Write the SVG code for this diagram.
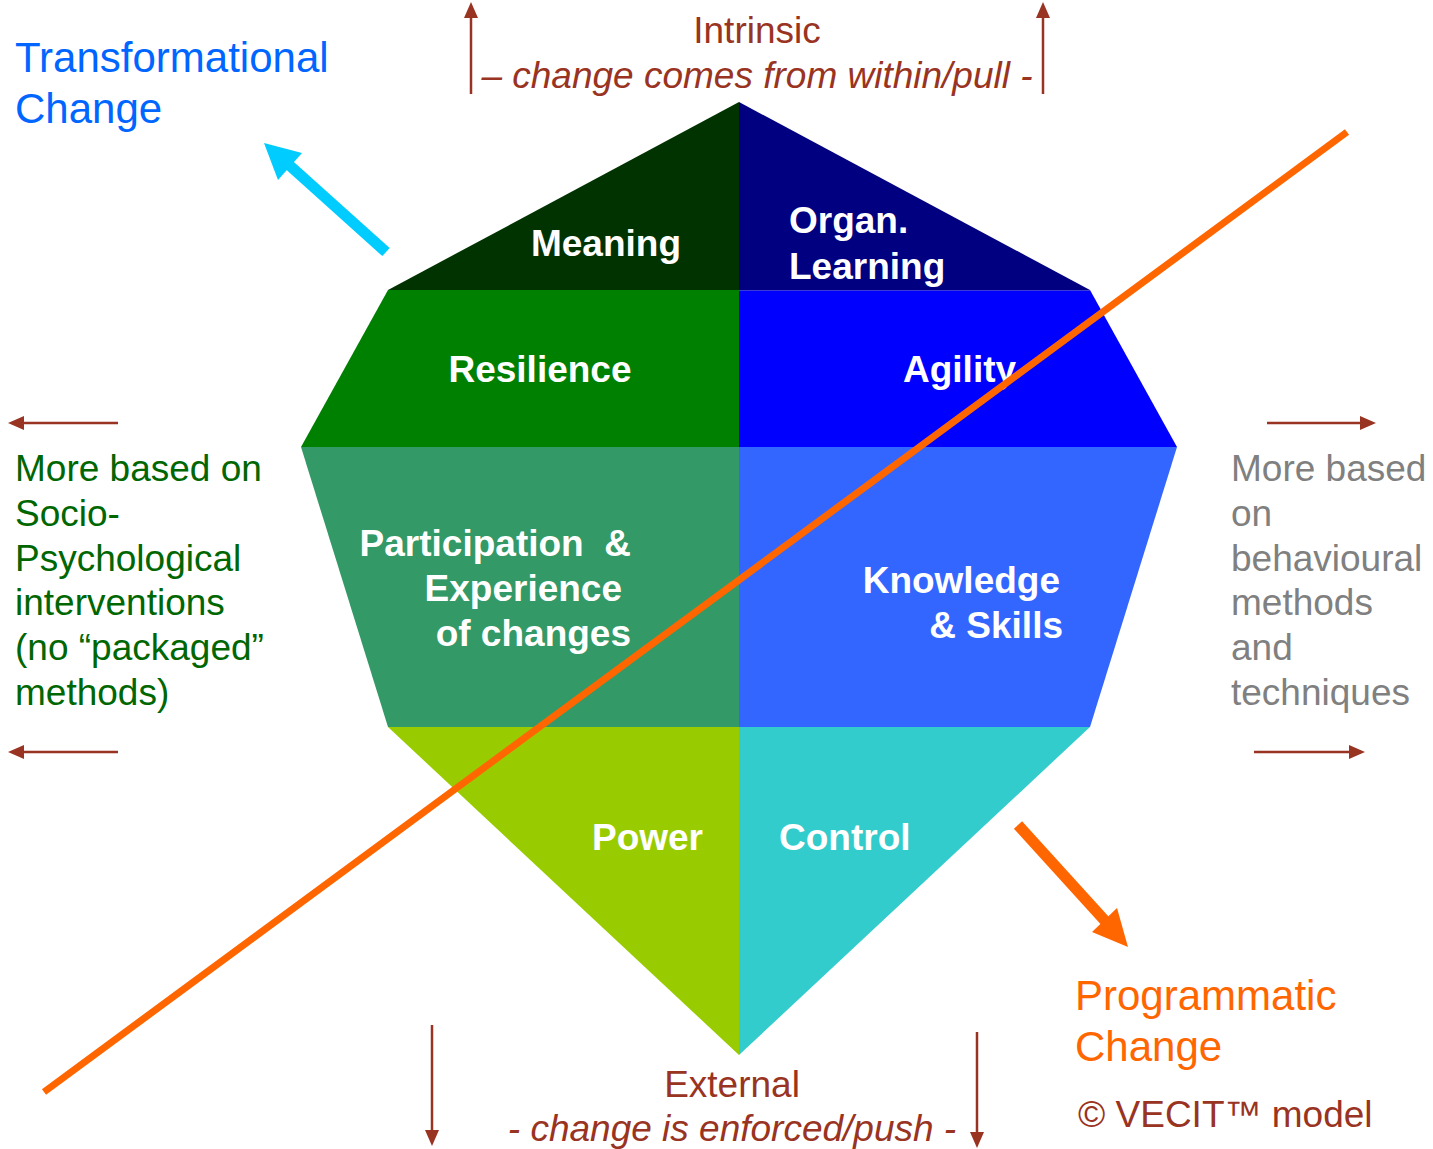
<svg xmlns="http://www.w3.org/2000/svg" width="1433" height="1149" viewBox="0 0 1433 1149">
  <defs>
    <!-- arrowhead pointing right, tip at origin -->
    <path id="head" d="M0,0 L-16,-7 L-16,7 z" fill="#993322"/>
    <style>
      .lbl { font-family: "Liberation Sans", Arial, sans-serif; font-weight: bold; font-size: 37px; fill: #ffffff; }
      .side { font-family: "Liberation Sans", Arial, sans-serif; font-size: 37px; }
      .big { font-family: "Liberation Sans", Arial, sans-serif; font-size: 42px; }
      .axis { font-family: "Liberation Sans", Arial, sans-serif; font-size: 37px; fill: #993322; }
      .ital { font-style: italic; }
      .dir { stroke: #993322; stroke-width: 2.5; fill: none; }
    </style>
  </defs>
  <rect width="1433" height="1149" fill="#ffffff"/>

  <!-- segments of the model -->
  <g id="meaning">
    <polygon points="739,102 739,290 388,290" fill="#003300"/>
    <text class="lbl" x="606" y="256" text-anchor="middle">Meaning</text>
  </g>
  <g id="organ-learning">
    <polygon points="739,102 1090,290 739,290" fill="#000080"/>
    <text class="lbl" x="789" y="233">Organ.</text>
    <text class="lbl" x="789" y="279">Learning</text>
  </g>
  <g id="resilience">
    <polygon points="388,290 739,290 739,447 301,447" fill="#008000"/>
    <text class="lbl" x="540" y="382" text-anchor="middle">Resilience</text>
  </g>
  <g id="agility">
    <polygon points="739,290 1090,290 1177,447 739,447" fill="#0000ff"/>
    <line x1="739" y1="290.5" x2="1090" y2="290.5" stroke="#3a3ad8" stroke-width="1"/>
    <text class="lbl" x="903" y="382">Agility</text>
  </g>
  <g id="participation">
    <polygon points="301,447 739,447 739,727 388,727" fill="#339966"/>
    <text class="lbl" x="631" y="556" text-anchor="end" xml:space="preserve">Participation  &amp;</text>
    <text class="lbl" x="622" y="601" text-anchor="end">Experience</text>
    <text class="lbl" x="631" y="646" text-anchor="end">of changes</text>
  </g>
  <g id="knowledge">
    <polygon points="739,447 1177,447 1090,727 739,727" fill="#3366ff"/>
    <text class="lbl" x="1060" y="593" text-anchor="end">Knowledge</text>
    <text class="lbl" x="1063" y="638" text-anchor="end">&amp; Skills</text>
  </g>
  <g id="power">
    <polygon points="388,727 739,727 739,1055" fill="#99cc00"/>
    <text class="lbl" x="703" y="850" text-anchor="end">Power</text>
  </g>
  <g id="control">
    <polygon points="739,727 1090,727 739,1055" fill="#33cccc"/>
    <text class="lbl" x="779" y="850">Control</text>
  </g>

  <!-- side annotations -->
  <g id="intrinsic">
    <text class="axis" x="757" y="43" text-anchor="middle">Intrinsic</text>
    <text class="axis ital" x="757" y="88" text-anchor="middle">– change comes from within/pull -</text>
  </g>
  <g id="external">
    <text class="axis" x="732" y="1097" text-anchor="middle">External</text>
    <text class="axis ital" x="732" y="1141" text-anchor="middle">- change is enforced/push -</text>
  </g>
  <g id="transformational">
    <text class="big" x="15" y="72" fill="#0066ff">Transformational</text>
    <text class="big" x="15" y="123" fill="#0066ff">Change</text>
  </g>
  <g id="programmatic">
    <text class="big" x="1075" y="1010" fill="#ff6600">Programmatic</text>
    <text class="big" x="1075" y="1061" fill="#ff6600">Change</text>
    <text class="side" x="1078" y="1127" fill="#993322">© VECIT™ model</text>
  </g>
  <g id="socio">
    <text class="side" x="15" y="481" fill="#006600">More based on</text>
    <text class="side" x="15" y="526" fill="#006600">Socio-</text>
    <text class="side" x="15" y="571" fill="#006600">Psychological</text>
    <text class="side" x="15" y="615" fill="#006600">interventions</text>
    <text class="side" x="15" y="660" fill="#006600">(no “packaged”</text>
    <text class="side" x="15" y="705" fill="#006600">methods)</text>
  </g>
  <g id="behavioural">
    <text class="side" x="1231" y="481" fill="#808080">More based</text>
    <text class="side" x="1231" y="526" fill="#808080">on</text>
    <text class="side" x="1231" y="571" fill="#808080">behavioural</text>
    <text class="side" x="1231" y="615" fill="#808080">methods</text>
    <text class="side" x="1231" y="660" fill="#808080">and</text>
    <text class="side" x="1231" y="705" fill="#808080">techniques</text>
  </g>

  <!-- connectors and direction arrows -->
  <g id="connectors">
    <line class="dir" x1="471" y1="94" x2="471" y2="14"/>
    <use href="#head" transform="translate(471,2) rotate(-90)"/>
    <line class="dir" x1="1043" y1="94" x2="1043" y2="14"/>
    <use href="#head" transform="translate(1043,2) rotate(-90)"/>
    <line class="dir" x1="432" y1="1025" x2="432" y2="1133"/>
    <use href="#head" transform="translate(432,1146) rotate(90)"/>
    <line class="dir" x1="977" y1="1032" x2="977" y2="1135"/>
    <use href="#head" transform="translate(977,1148) rotate(90)"/>
    <line class="dir" x1="118" y1="423" x2="20" y2="423"/>
    <use href="#head" transform="translate(8,423) rotate(180)"/>
    <line class="dir" x1="118" y1="752" x2="20" y2="752"/>
    <use href="#head" transform="translate(8,752) rotate(180)"/>
    <line class="dir" x1="1267" y1="423" x2="1364" y2="423"/>
    <use href="#head" transform="translate(1376,423)"/>
    <line class="dir" x1="1254" y1="752" x2="1353" y2="752"/>
    <use href="#head" transform="translate(1365,752)"/>

    <!-- diagonal divider -->
    <line x1="44" y1="1092" x2="1347" y2="132" stroke="#ff6600" stroke-width="7"/>

    <!-- transformational arrow -->
    <line x1="386" y1="252" x2="288" y2="164" stroke="#00ccff" stroke-width="11"/>
    <polygon points="264,143 302,153 278,180" fill="#00ccff"/>

    <!-- programmatic arrow -->
    <line x1="1018" y1="825" x2="1107" y2="923" stroke="#ff6600" stroke-width="11"/>
    <polygon points="1128,947 1117,908 1092,932" fill="#ff6600"/>
  </g>
</svg>
